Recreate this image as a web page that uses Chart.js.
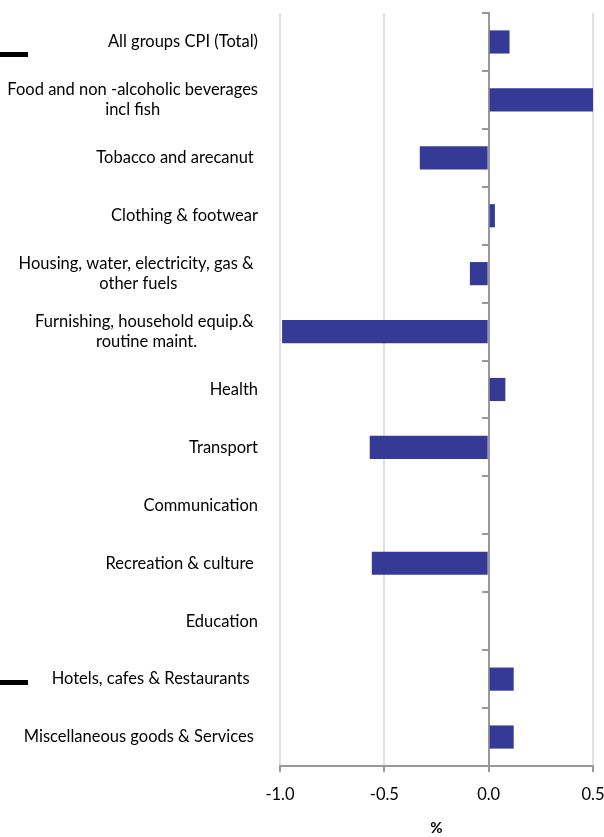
<!DOCTYPE html>
<html>
  <head>
    <title>CPI groups</title>
    <meta charset="utf-8" />
    <style>
      html, body { margin: 0; padding: 0; background: #fff; }
      #chart-container { position: relative; width: 604px; height: 837px; }
      .mark { position: absolute; left: 0; width: 28px; height: 5px; background: #000; }
    </style>
  </head>
  <body>
    <div id="chart-container">
      <canvas id="cpi-chart"></canvas>
      <div class="mark" style="top: 52px"></div>
      <div class="mark" style="top: 680px"></div>
    </div>

    <script src="https://cdn.jsdelivr.net/npm/chart.js"></script>
    <script>
      var groupLabels = [
        ["All groups CPI (Total)"],
        ["Food and non -alcoholic beverages", "incl fish"],
        ["Tobacco and arecanut "],
        ["Clothing & footwear"],
        ["Housing, water, electricity, gas & ", "other fuels"],
        ["Furnishing, household equip.& ", "routine maint."],
        ["Health"],
        ["Transport"],
        ["Communication"],
        ["Recreation & culture "],
        ["Education"],
        ["Hotels, cafes & Restaurants  "],
        ["Miscellaneous goods & Services "]
      ];
      var changeValues = [0.1, 0.5, -0.33, 0.03, -0.09, -0.99, 0.08, -0.57, 0, -0.56, 0, 0.12, 0.12];
      var xTicks = [-1.0, -0.5, 0.0, 0.5];

      var fontFamily = "Lato, 'Open Sans', sans-serif";
      var labelFont = "16.5px " + fontFamily;

      // category labels drawn centred line by line, right edge near the plot
      var groupLabelPlugin = {
        id: "groupLabels",
        afterDraw: function (chart) {
          var ctx = chart.ctx;
          var yScale = chart.scales.y;
          var right = chart.chartArea.left - 22;
          ctx.save();
          ctx.font = labelFont;
          ctx.fillStyle = "#000";
          ctx.textAlign = "center";
          ctx.textBaseline = "middle";
          groupLabels.forEach(function (lines, i) {
            var y = yScale.getPixelForValue(i);
            var w = 0;
            lines.forEach(function (l) { w = Math.max(w, ctx.measureText(l).width); });
            var cx = right - w / 2;
            var lh = 20;
            var top = y - (lines.length - 1) * lh / 2;
            lines.forEach(function (l, k) {
              ctx.fillText(l, cx, top + k * lh);
            });
          });
          ctx.restore();
        }
      };

      new Chart(document.getElementById("cpi-chart"), {
        type: "bar",
        data: {
          labels: groupLabels.map(function (l) { return l.join(" "); }),
          datasets: [
            {
              data: changeValues,
              backgroundColor: "#353A96",
              categoryPercentage: 0.8,
              barPercentage: 0.5
            }
          ]
        },
        options: {
          indexAxis: "y",
          responsive: true,
          maintainAspectRatio: false,
          animation: false,
          layout: { padding: { left: 280, right: 11, top: 13, bottom: 0 } },
          plugins: {
            legend: { display: false },
            tooltip: { enabled: false }
          },
          scales: {
            x: {
              min: -1,
              max: 0.5,
              afterBuildTicks: function (scale) {
                scale.ticks = xTicks.map(function (v) { return { value: v }; });
              },
              afterFit: function (scale) {
                scale.height = 71;
                scale.paddingLeft = 0;
                scale.paddingRight = 0;
              },
              ticks: {
                callback: function (v) { return Number(v).toFixed(1); },
                color: "#000",
                font: { family: fontFamily, size: 16.5 },
                padding: 13
              },
              grid: {
                color: "#e0e0e0",
                lineWidth: 2,
                tickColor: "#999",
                tickLength: 6
              },
              border: { color: "#999", width: 2 },
              title: {
                display: true,
                text: "%",
                color: "#000",
                font: { family: fontFamily, size: 15, weight: "bold" },
                padding: { top: 0, bottom: 0 }
              }
            },
            y: {
              position: { x: 0 },
              ticks: { display: false },
              grid: {
                drawOnChartArea: false,
                tickColor: "#999",
                tickLength: 6,
                lineWidth: 2
              },
              border: { color: "#999", width: 2 }
            }
          }
        },
        plugins: [groupLabelPlugin]
      });
    </script>
  </body>
</html>
